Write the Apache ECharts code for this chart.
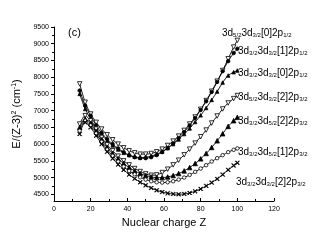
<!DOCTYPE html>
<html><head><meta charset="utf-8">
<script src="https://cdn.jsdelivr.net/npm/echarts@6/dist/echarts.min.js"></script>
<style>html,body{margin:0;padding:0;background:#fff}#c{width:320px;height:245px}</style>
</head><body><div id="c"></div>
<script>
// Nuclear charge Z
const Z = [14,17,20,23,26,29,32,35,38,41,44,47,50,53,56,59,62,65,68,71,74,77,80,83,86,89,92,95,98,100];
// 3d5/2 3d3/2 [0] 2p1/2
const U1 = [7800,7250,6900,6650,6450,6280,6130,6000,5890,5800,5740,5700,5700,5720,5770,5850,5960,6090,6240,6410,6600,6810,7040,7300,7580,7880,8200,8550,8900,9100];
// 3d3/2 3d3/2 [1] 2p1/2
const U2 = [7600,7150,6850,6560,6330,6150,6000,5870,5760,5670,5610,5580,5580,5610,5670,5760,5880,6020,6180,6360,6560,6780,7020,7280,7560,7860,8180,8480,8720,8850];
// 3d3/2 3d3/2 [0] 2p1/2
const U3 = [7500,7050,6750,6480,6270,6100,5960,5840,5740,5670,5620,5600,5610,5640,5700,5780,5880,6000,6140,6300,6470,6660,6860,7080,7320,7570,7840,8050,8150,8200];
// 3d5/2 3d3/2 [2] 2p3/2
const L4 = [6600,6850,6700,6450,6200,5980,5800,5640,5500,5380,5270,5180,5110,5070,5080,5150,5250,5380,5520,5680,5850,6030,6220,6420,6630,6840,7050,7230,7360,7450];
// 3d3/2 3d5/2 [2] 2p3/2
const L5 = [6500,6750,6620,6380,6130,5900,5720,5560,5420,5300,5200,5120,5060,5020,5000,5000,5020,5060,5120,5200,5300,5420,5560,5720,5900,6100,6310,6530,6700,6800];
// 3d3/2 3d5/2 [1] 2p3/2
const L6 = [6400,6700,6560,6320,6070,5840,5650,5480,5330,5200,5100,5010,4940,4890,4860,4850,4860,4890,4940,5000,5080,5170,5270,5370,5480,5580,5670,5760,5830,5870];
// 3d3/2 3d3/2 [2] 2p3/2
const L7 = [6300,6650,6500,6250,6000,5770,5570,5390,5230,5090,4970,4860,4770,4690,4620,4570,4530,4510,4500,4510,4540,4590,4660,4750,4850,4960,5090,5230,5360,5440];

const xTicks = [0,20,40,60,80,100,120];
const yTicks = [4500,5000,5500,6000,6500,7000,7500,8000,8500,9000,9500];
const yMinorTicks = [4500,4750,5000,5250,5500,5750,6000,6250,6500,6750,7000,7250,7500,7750,8000,8250,8500,8750,9000,9250,9500];

const labels = [
  '3d{s|5/2}3d{s|3/2}[0]2p{s|1/2}',
  '3d{s|3/2}3d{s|3/2}[1]2p{s|1/2}',
  '3d{s|3/2}3d{s|3/2}[0]2p{s|1/2}',
  '3d{s|5/2}3d{s|3/2}[2]2p{s|3/2}',
  '3d{s|3/2}3d{s|5/2}[2]2p{s|3/2}',
  '3d{s|3/2}3d{s|5/2}[1]2p{s|3/2}',
  '3d{s|3/2}3d{s|3/2}[2]2p{s|3/2}'
];

const FONT = 'Liberation Sans, Arial, sans-serif';
const downTri = 'path://M0,0L10,0L5,9Z';
const cross = 'path://M0,1L1,0L5,4L9,0L10,1L6,5L10,9L9,10L5,6L1,10L0,9L4,5Z';

function mk(vals, symbol, fill, size) {
  return {
    type: 'line',
    data: Z.map((z, i) => [z, vals[i]]),
    symbol: symbol,
    symbolSize: size,
    smooth: 0.3,
    showAllSymbol: true,
    lineStyle: { color: '#000', width: 0.9 },
    itemStyle: { color: fill, borderColor: '#000', borderWidth: 0.8 },
    emphasis: { disabled: true },
    silent: true,
    z: 3
  };
}

const chart = echarts.init(document.getElementById('c'), null, { renderer: 'canvas' });
const rich = { s: { fontSize: 6, fontFamily: FONT, padding: [5, 0, 0, 0], fill: '#000' } };
const labelPos = [[222,28],[238,46],[238,68],[238,92],[238,116],[238,147],[236,177]];
const graphic = labels.map((t, i) => ({
  type: 'text', left: labelPos[i][0], top: labelPos[i][1], silent: true,
  style: { text: t, fontSize: 10, fontFamily: FONT, fill: '#000', rich: rich }
}));
graphic.push({ type: 'text', left: 68, top: 27, silent: true,
  style: { text: '(c)', fontSize: 11, fontFamily: FONT, fill: '#000' } });

chart.setOption({
  animation: false,
  backgroundColor: '#fff',
  grid: { left: 54, right: 46, top: 27, bottom: 44 },
  xAxis: {
    type: 'value', min: 0, max: 120, interval: 20,
    name: 'Nuclear charge Z', nameLocation: 'middle', nameGap: 16,
    nameTextStyle: { fontSize: 11, fontFamily: FONT, color: '#000' },
    axisLine: { lineStyle: { color: '#000', width: 1 } },
    axisTick: { inside: true, length: 3, lineStyle: { color: '#000' } },
    minorTick: { show: true, splitNumber: 2, length: 2, lineStyle: { color: '#000' } },
    axisLabel: { fontSize: 7, fontFamily: FONT, color: '#000', margin: 5, formatter: v => String(v) },
    splitLine: { show: false }
  },
  yAxis: [{
    type: 'value', min: 4300, max: 9500,
    name: 'E/(Z-3){p|2} (cm{p|-1})', nameLocation: 'middle', nameGap: 29, nameRotate: 90,
    nameTextStyle: { fontSize: 11, fontFamily: FONT, color: '#000',
      rich: { p: { fontSize: 7, fontFamily: FONT, padding: [0, 0, 6, 0] } } },
    axisLine: { lineStyle: { color: '#000', width: 1 } },
    axisTick: { length: 3, lineStyle: { color: '#000' }, customValues: yTicks },
    axisLabel: { fontSize: 7, fontFamily: FONT, color: '#000', margin: 5, customValues: yTicks, formatter: v => String(v) },
    splitLine: { show: false }
  }, {
    type: 'value', min: 4300, max: 9500, position: 'left',
    axisLine: { show: false },
    axisTick: { length: 2, lineStyle: { color: '#000' }, customValues: yMinorTicks },
    axisLabel: { show: false },
    splitLine: { show: false }
  }],
  graphic: graphic,
  series: [
    mk(U1, downTri, '#fff', 4.5),
    mk(U2, 'circle', '#000', 3.5),
    mk(U3, 'triangle', '#000', 3.5),
    mk(L4, downTri, '#fff', 4.5),
    mk(L5, 'triangle', '#000', 4.5),
    mk(L6, 'circle', '#fff', 3.5),
    mk(L7, cross, '#000', 4)
  ]
});
</script></body></html>
